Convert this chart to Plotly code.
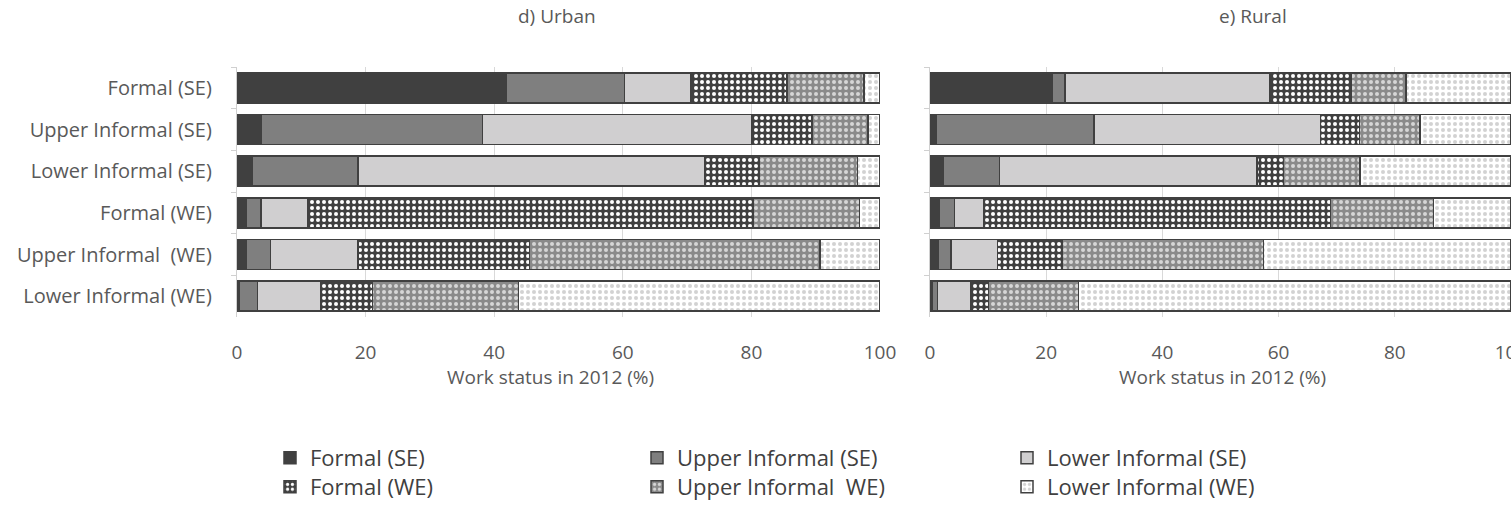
import plotly.graph_objects as go

categories = ["Formal (SE)", "Upper Informal (SE)", "Lower Informal (SE)",
              "Formal (WE)", "Upper Informal  (WE)", "Lower Informal (WE)"]
series_names = ["Formal (SE)", "Upper Informal (SE)", "Lower Informal (SE)",
                "Formal (WE)", "Upper Informal  WE)", "Lower Informal (WE)"]

# Urban (d) - one list per series, ordered by category
urban_formal_se = [41.9, 3.7, 2.4, 1.4, 1.5, 0.3]
urban_upper_se = [18.4, 34.5, 16.4, 2.3, 3.7, 2.9]
urban_lower_se = [10.3, 41.9, 54.0, 7.3, 13.6, 9.8]
urban_formal_we = [14.9, 9.3, 8.4, 69.3, 26.7, 8.1]
urban_upper_we = [12.0, 8.7, 15.3, 16.5, 45.2, 22.7]
urban_lower_we = [2.5, 1.9, 3.5, 3.2, 9.3, 56.2]

# Rural (e)
rural_formal_se = [21.1, 1.1, 2.3, 1.6, 1.5, 0.4]
rural_upper_se = [2.1, 27.1, 9.7, 2.6, 2.1, 0.9]
rural_lower_se = [35.3, 39.0, 44.3, 5.0, 8.0, 5.7]
rural_formal_we = [14.0, 6.7, 4.5, 59.7, 11.1, 3.1]
rural_upper_we = [9.4, 10.4, 13.2, 17.8, 34.7, 15.5]
rural_lower_we = [18.1, 15.7, 26.0, 13.3, 42.6, 74.4]

x_ticks = [0, 20, 40, 60, 80, 100]

urban = [urban_formal_se, urban_upper_se, urban_lower_se, urban_formal_we, urban_upper_we, urban_lower_we]
rural = [rural_formal_se, rural_upper_se, rural_lower_se, rural_formal_we, rural_upper_we, rural_lower_we]

styles = [
    dict(color="#404040", pattern=dict(shape="")),
    dict(color="#7f7f7f", pattern=dict(shape="")),
    dict(color="#d0cfd0", pattern=dict(shape="")),
    dict(color="#404040", pattern=dict(shape=".", bgcolor="#404040", fgcolor="#ffffff", size=6, solidity=0.35)),
    dict(color="#8a8a8a", pattern=dict(shape=".", bgcolor="#8a8a8a", fgcolor="#d6d6d6", size=6, solidity=0.35)),
    dict(color="#ffffff", pattern=dict(shape=".", bgcolor="#ffffff", fgcolor="#d2d2d2", size=6, solidity=0.35)),
]

W, H = 1511, 505
T, B = 67, 188
PH = H - T - B

def px(x):
    return x / W

def py(y):
    return (H - B - y) / PH

fig = go.Figure()
legend_pos = [(270, 458), (637, 458), (1007, 458), (270, 487), (637, 487), (1007, 487)]
for i in range(6):
    lname = "legend" if i == 0 else f"legend{i+1}"
    st = styles[i]
    marker = dict(color=st["color"], pattern=st["pattern"], line=dict(color="#404040", width=1.5))
    fig.add_trace(go.Bar(y=categories, x=urban[i], orientation="h", name=series_names[i],
                         marker=marker, xaxis="x", yaxis="y", legend=lname, showlegend=True))
    fig.add_trace(go.Bar(y=categories, x=rural[i], orientation="h", name=series_names[i],
                         marker=marker, xaxis="x2", yaxis="y2", showlegend=False))

tickfont = dict(family="Open Sans", size=19, color="#595959")
ytickfont = dict(family="Open Sans", size=20, color="#595959")
common_x = dict(range=[0, 100], tickvals=x_ticks, showgrid=True, gridcolor="#d9d9d9", gridwidth=1.3,
                zeroline=False, showline=False, tickfont=tickfont, ticklabelstandoff=22,
                ticklabeloverflow="allow", automargin=False, fixedrange=True)
common_y = dict(autorange="reversed", showline=True, linecolor="#d0d0d0", linewidth=1.3,
                ticks="outside", tickson="boundaries", ticklen=5, tickcolor="#d0d0d0",
                tickfont=ytickfont, showgrid=False, automargin=False, fixedrange=True)

layout = dict(
    template="none",
    width=W, height=H,
    margin=dict(l=0, r=0, t=T, b=B, autoexpand=False),
    paper_bgcolor="white", plot_bgcolor="white",
    barmode="stack", bargap=0.28,
    xaxis=dict(domain=[237 / W, 880 / W], anchor="y", **common_x),
    yaxis=dict(domain=[0, 1], anchor="x", showticklabels=True, ticklabelstandoff=20, **common_y),
    xaxis2=dict(domain=[930 / W, 1.0], anchor="y2", **common_x),
    yaxis2=dict(domain=[0, 1], anchor="x2", showticklabels=False, **common_y),
    font=dict(family="Open Sans", color="#595959"),
    hovermode=False,
)
for i, (lx, ly) in enumerate(legend_pos):
    lname = "legend" if i == 0 else f"legend{i+1}"
    layout[lname] = dict(x=px(lx), y=py(ly), xanchor="left", yanchor="middle", orientation="h",
                         font=dict(family="Open Sans", size=22, color="#404040"),
                         bgcolor="rgba(0,0,0,0)", borderwidth=0, itemwidth=30)
fig.update_layout(**layout)

annos = [
    ("d) Urban", 557, 16, 19),
    ("e) Rural", 1253, 16, 19),
    ("Work status in 2012 (%)", 550, 377, 19),
    ("Work status in 2012 (%)", 1222, 377, 19),
]
for text, ax_, ay_, fs in annos:
    fig.add_annotation(text=text, x=px(ax_), y=py(ay_), xref="paper", yref="paper",
                       showarrow=False, xanchor="center", yanchor="middle",
                       font=dict(family="Open Sans", size=fs, color="#595959"))

fig.write_html("out.html", config={"displayModeBar": False},
               post_script="document.body.style.margin='0';document.body.style.overflow='hidden';")
